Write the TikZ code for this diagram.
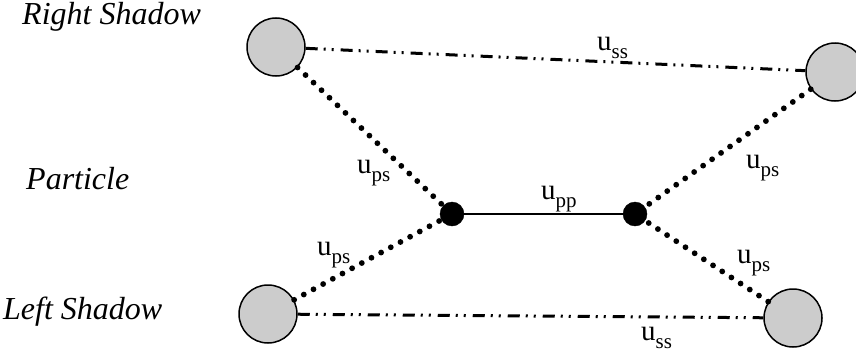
\documentclass[tikz,border=0pt]{standalone}
\usepackage{fontspec}
\setmainfont{Liberation Serif}
\newcommand{\ulbl}[1]{u\raisebox{-0.28em}{\fontsize{21}{21}\selectfont #1}}
\begin{document}
\begin{tikzpicture}[x=1pt,y=-1pt,
  shadow/.style={circle,draw=black,line width=1.5pt,fill=black!20,minimum size=58pt,inner sep=0pt},
  particle/.style={circle,draw=black,fill=black,minimum size=24pt,inner sep=0pt},
  pslink/.style={line width=5.8pt,line cap=round,dash pattern=on 0pt off 11pt},
  sslink/.style={line width=3pt,dash pattern=on 12pt off 6pt on 2pt off 6pt on 2pt off 7pt},
  pplink/.style={line width=2.4pt},
  rowlabel/.style={anchor=base west,inner sep=0pt,font=\fontsize{32}{32}\selectfont\itshape},
  ulabel/.style={anchor=base west,inner sep=0pt,font=\fontsize{29}{29}\selectfont}]
\useasboundingbox (0,0) rectangle (856,356);
\node[shadow] (TL) at (276,47) {};
\node[shadow] (TR) at (835,72) {};
\node[shadow] (BL) at (268,314) {};
\node[shadow] (BR) at (793,318) {};
\node[particle] (PL) at (452,214) {};
\node[particle] (PR) at (635,214) {};
\draw[sslink] (TL) -- (TR);
\draw[sslink] (BL) -- (BR);
\draw[pslink] (TL) -- (PL);
\draw[pslink] (BL) -- (PL);
\draw[pslink] (TR) -- (PR);
\draw[pslink] (BR) -- (PR);
\draw[pplink] (PL) -- (PR);
\node[rowlabel] (rs) at (22,24) {Right Shadow};
\node[rowlabel] (pa) at (26,189) {Particle};
\node[rowlabel] (ls) at (3,319) {Left Shadow};
\node[ulabel] (l1) at (597,50) {\ulbl{ss}};
\node[ulabel] (l2) at (357,173) {\ulbl{ps}};
\node[ulabel] (l3) at (317,255) {\ulbl{ps}};
\node[ulabel] (l4) at (541,199) {\ulbl{pp}};
\node[ulabel] (l5) at (746,168) {\ulbl{ps}};
\node[ulabel] (l6) at (737,263) {\ulbl{ps}};
\node[ulabel] (l7) at (641,340) {\ulbl{ss}};
\end{tikzpicture}
\end{document}
